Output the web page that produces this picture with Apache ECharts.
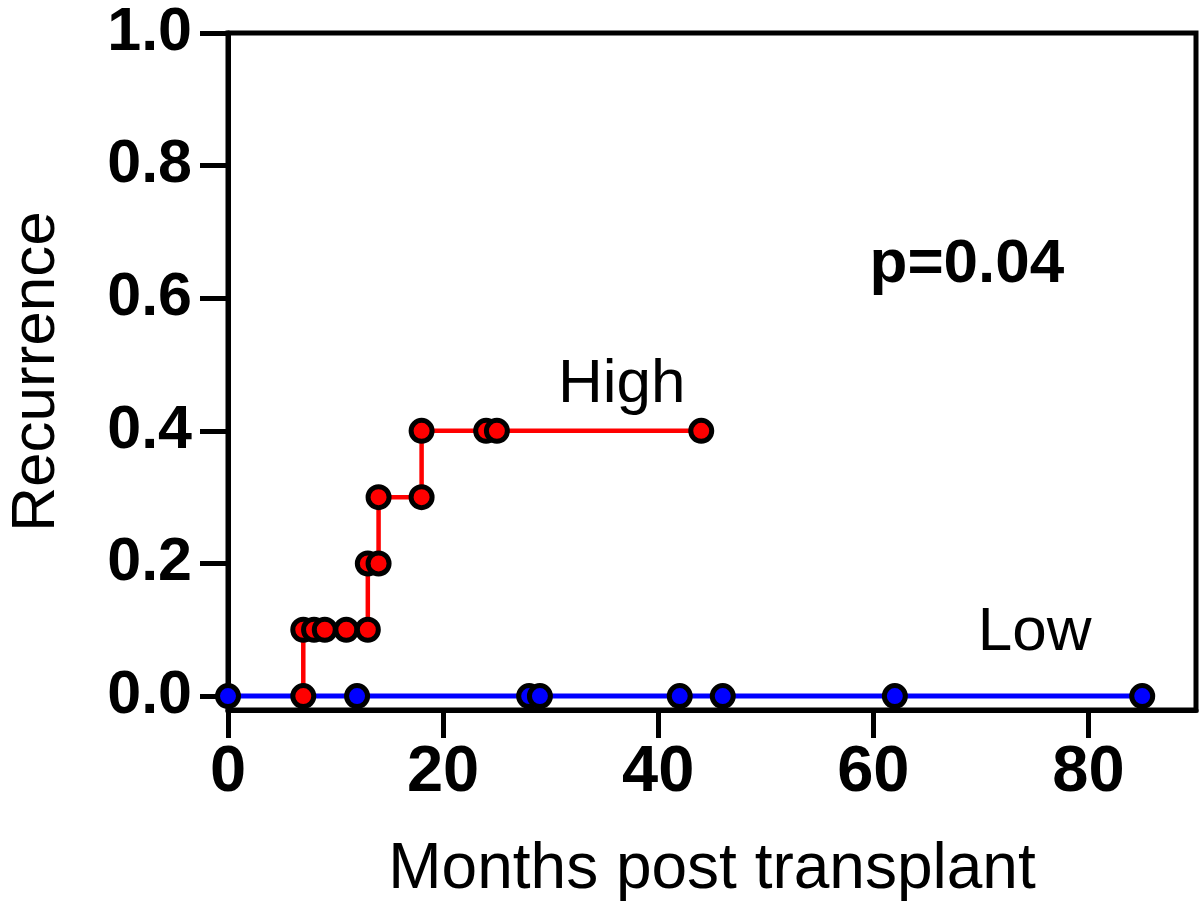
<!DOCTYPE html>
<html>
<head>
<meta charset="utf-8">
<script src="https://cdn.jsdelivr.net/npm/echarts@6/dist/echarts.min.js"></script>
<style>
  html, body { margin: 0; padding: 0; background: #fff; }
  #main { width: 1200px; height: 903px; }
</style>
</head>
<body>
<div id="main"></div>
<script>
  // high group (red) - cumulative recurrence steps
  const monthsHigh = [7, 7, 8, 9, 11, 13, 13, 14, 14, 18, 18, 24, 25, 44];
  const recurHigh = [0, 0.1, 0.1, 0.1, 0.1, 0.1, 0.2, 0.2, 0.3, 0.3, 0.4, 0.4, 0.4, 0.4];
  // low group (blue) - never recurs
  const monthsLow = [0, 12, 28, 29, 42, 46, 62, 85];
  const recurLow = [0, 0, 0, 0, 0, 0, 0, 0];

  const xTicks = [0, 20, 40, 60, 80];
  const yTicks = [0, 0.2, 0.4, 0.6, 0.8, 1.0];

  // annotation texts with their data anchor
  const notes = [
    { text: 'High', x: 36.6, y: 0.47, bold: false },
    { text: 'Low', x: 75.0, y: 0.095, bold: false },
    { text: 'p=0.04', x: 68.7, y: 0.65, bold: true }
  ];

  const FONT = '"Liberation Sans", Arial, Helvetica, sans-serif';

  const pairs = (xs, ys) => xs.map((x, i) => [x, ys[i]]);

  const chart = echarts.init(document.getElementById('main'));
  chart.setOption({
    backgroundColor: '#fff',
    animation: false,
    grid: {
      left: 228, right: 4, top: 33, bottom: 193,
      outerBoundsMode: 'none',
      containLabel: false,
      show: true, borderColor: '#000', borderWidth: 5
    },
    xAxis: {
      type: 'value',
      min: 0, max: 90,
      name: 'Months post transplant',
      nameLocation: 'middle',
      nameGap: 128,
      nameTextStyle: { fontFamily: FONT, fontSize: 64, color: '#000' },
      axisLine: { onZero: false, lineStyle: { color: '#000', width: 5 } },
      axisTick: { show: true, length: 28, lineStyle: { color: '#000', width: 5 }, customValues: xTicks },
      axisLabel: {
        customValues: xTicks,
        margin: 31,
        fontFamily: FONT, fontWeight: 'bold', fontSize: 65, color: '#000'
      },
      splitLine: { show: false }
    },
    yAxis: {
      type: 'value',
      min: -0.021, max: 1,
      name: 'Recurrence',
      nameLocation: 'middle',
      nameGap: 160,
      nameTextStyle: { fontFamily: FONT, fontSize: 62, color: '#000' },
      axisLine: { lineStyle: { color: '#000', width: 5 } },
      axisTick: { show: true, length: 28, lineStyle: { color: '#000', width: 5 }, customValues: yTicks },
      axisLabel: {
        customValues: yTicks,
        margin: 36,
        formatter: v => v.toFixed(1),
        fontFamily: FONT, fontWeight: 'bold', fontSize: 61, color: '#000'
      },
      splitLine: { show: false }
    },
    series: [
      {
        name: 'Low',
        type: 'line',
        data: pairs(monthsLow, recurLow),
        clip: false,
        symbol: 'circle',
        symbolSize: 21,
        lineStyle: { color: '#0000ff', width: 5 },
        itemStyle: { color: '#0000ff', borderColor: '#000', borderWidth: 5 }
      },
      {
        name: 'High',
        type: 'line',
        data: pairs(monthsHigh, recurHigh),
        clip: false,
        symbol: 'circle',
        symbolSize: 21,
        lineStyle: { color: '#ff0000', width: 4.5 },
        itemStyle: { color: '#ff0000', borderColor: '#000', borderWidth: 5 }
      }
    ]
  });

  // put the annotation texts on the chart at their data positions
  chart.setOption({
    graphic: notes.map(n => {
      const p = chart.convertToPixel({ gridIndex: 0 }, [n.x, n.y]);
      return {
        type: 'text',
        x: p[0], y: p[1],
        style: {
          text: n.text,
          fill: '#000',
          font: (n.bold ? 'bold ' : '') + '62px ' + FONT,
          textAlign: 'center',
          textVerticalAlign: 'middle'
        }
      };
    })
  });
</script>
</body>
</html>
